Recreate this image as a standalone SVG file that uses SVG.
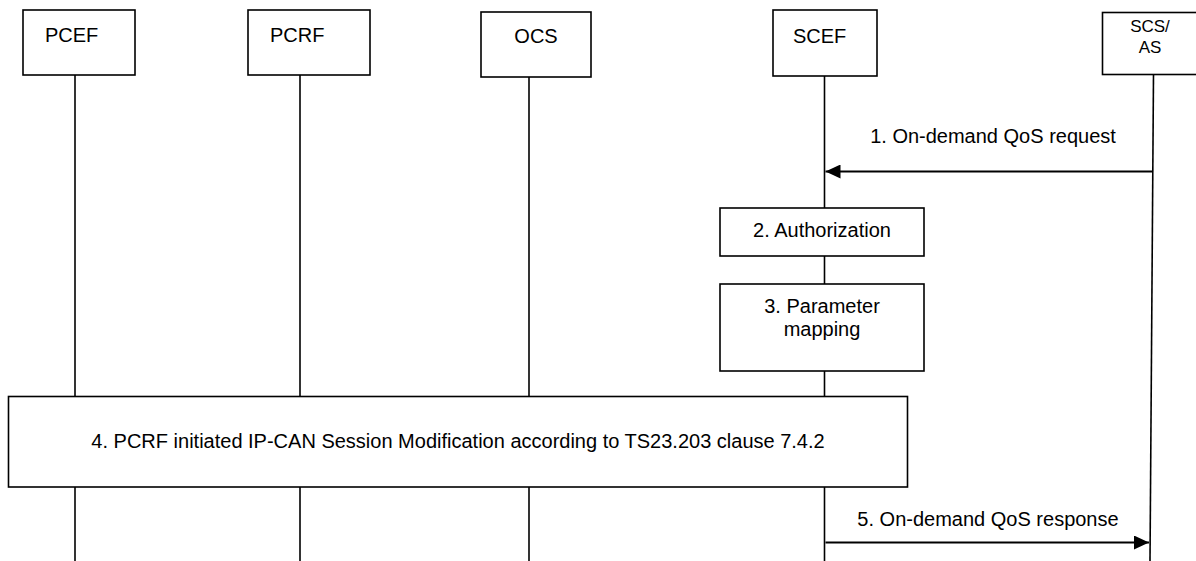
<svg xmlns="http://www.w3.org/2000/svg" width="1196" height="561" viewBox="0 0 1196 561">
<style>
.box{fill:#fff;stroke:#000;stroke-width:1.6}
.life{stroke:#000;stroke-width:1.6;fill:none}
.msg{stroke:#000;stroke-width:2;fill:none}
text{font-family:"Liberation Sans",Arial,sans-serif;font-size:20px;fill:#000}
.c{text-anchor:middle}
.s{font-size:17px}
</style>
<defs>
<marker id="ah" viewBox="0 0 15 14" refX="15" refY="7" markerWidth="15" markerHeight="14" markerUnits="userSpaceOnUse" orient="auto">
<path d="M0,0 L15,7 L0,14 Z" fill="#000"/>
</marker>
</defs>
<g id="lifelines">
<line class="life" x1="75" y1="75" x2="75" y2="561"/>
<line class="life" x1="300" y1="75" x2="300" y2="561"/>
<line class="life" x1="529" y1="77" x2="529" y2="561"/>
<line class="life" x1="824.5" y1="76" x2="824.5" y2="561"/>
<line class="life" x1="1153.5" y1="74" x2="1150" y2="561"/>
</g>
<g id="PCEF"><rect class="box" x="23" y="10" width="112" height="65"/><text x="45" y="42">PCEF</text></g>
<g id="PCRF"><rect class="box" x="248" y="10" width="122" height="65"/><text x="270" y="42">PCRF</text></g>
<g id="OCS"><rect class="box" x="481" y="12" width="110" height="65"/><text class="c" x="536" y="43">OCS</text></g>
<g id="SCEF"><rect class="box" x="773" y="10" width="104" height="66"/><text x="793" y="43">SCEF</text></g>
<g id="SCSAS"><rect class="box" x="1102.5" y="12.5" width="110" height="62"/><text class="c s" x="1150" y="32">SCS/</text><text class="c s" x="1150" y="53">AS</text></g>
<g id="step2"><rect class="box" x="720" y="208" width="204" height="48"/><text class="c" x="822" y="237">2. Authorization</text></g>
<g id="step3"><rect class="box" x="720" y="284" width="204" height="87"/><text class="c" x="822" y="313">3. Parameter</text><text class="c" x="822" y="336">mapping</text></g>
<g id="step4"><rect class="box" x="8.5" y="396.5" width="899" height="90.5"/><text class="c" x="458" y="448">4. PCRF initiated IP-CAN Session Modification according to TS23.203 clause 7.4.2</text></g>
<g id="connectors">
<line class="msg" x1="1152" y1="171.5" x2="825.5" y2="171.5" marker-end="url(#ah)"/>
<text class="c" x="993" y="143">1. On-demand QoS request</text>
<line class="msg" x1="825.5" y1="542.5" x2="1149" y2="542.5" marker-end="url(#ah)"/>
<text class="c" x="988" y="526">5. On-demand QoS response</text>
</g>
</svg>
